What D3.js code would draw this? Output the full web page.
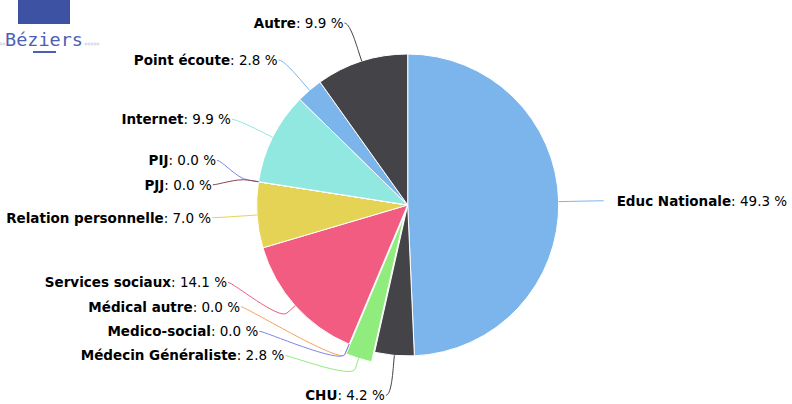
<!DOCTYPE html>
<html>
<head>
<meta charset="utf-8">
<script src="https://cdn.jsdelivr.net/npm/d3@7"></script>
<style>
  body { margin: 0; background: #fff; }
  svg { display: block; }
</style>
</head>
<body>
<div id="pie-chart"></div>
<script>
// data
const categories = ["Educ Nationale", "CHU", "Médecin Généraliste", "Médical autre", "Medico-social",
  "Services sociaux", "Relation personnelle", "PIJ", "PJJ", "Internet", "Point écoute", "Autre"];
const counts = [35, 3, 2, 0, 0, 10, 5, 0, 0, 7, 2, 7];
const colors = ["#7cb5ec", "#434348", "#90ed7d", "#f7a35c", "#8085e9", "#f15c80",
  "#e4d354", "#8085e8", "#8d4653", "#91e8e1", "#7cb5ec", "#434348"];
const slicedCategory = "Médecin Généraliste";

// layout
const WIDTH = 792;
const HEIGHT = 404;
const CX = 407.7;
const CY = 205;
const RADIUS = 151;
const DISTANCE = 40;
const SLICED_OFFSET = 10;
const CONNECTOR_OFFSET = 11;
const SLOT_HEIGHT = 24.4;
const R = RADIUS + DISTANCE;

const svg = d3
  .select("#pie-chart")
  .append("svg")
  .attr("width", WIDTH)
  .attr("height", HEIGHT);

// logo in the corner
const logo = svg.append("g");
logo.append("rect").attr("x", 18).attr("y", -2).attr("width", 52).attr("height", 26).attr("fill", "#3e52a4");
logo.append("text")
  .attr("x", 5).attr("y", 46)
  .attr("font-family", "DejaVu Sans Mono")
  .attr("font-size", "18.5px")
  .attr("fill", "#4c60b3")
  .text("Béziers");
logo.append("rect").attr("x", 33).attr("y", 51).attr("width", 23).attr("height", 2).attr("fill", "#4c60b3");
[1, 4].forEach((x) => logo.append("circle").attr("cx", x).attr("cy", 44).attr("r", 1.1)
  .attr("fill", "none").attr("stroke", "#b8bfd8").attr("stroke-width", 0.6));
[86, 89, 92, 95, 98].forEach((x) => logo.append("circle").attr("cx", x).attr("cy", 44).attr("r", 1.1)
  .attr("fill", "none").attr("stroke", "#b8bfd8").attr("stroke-width", 0.6));

const data = categories.map((name, i) => ({
  name: name,
  count: counts[i],
  color: colors[i],
  sliced: name === slicedCategory,
}));
const total = d3.sum(counts);

const pie = d3.pie().sort(null).value((d) => d.count);
const arc = d3.arc().innerRadius(0).outerRadius(RADIUS);
const arcs = pie(data);

function polar(a, r) {
  return [CX + r * Math.sin(a), CY - r * Math.cos(a)];
}

arcs.forEach((d) => {
  d.mid = (d.startAngle + d.endAngle) / 2;
  d.half = Math.sin(d.mid) < 0 ? 1 : 0; // 1 = left
  const off = d.data.sliced ? SLICED_OFFSET : 0;
  d.shift = [off * Math.sin(d.mid), -off * Math.cos(d.mid)];
  d.naturalY = polar(d.mid, R)[1];
  const e = polar(d.mid, RADIUS);
  const b = polar(d.mid, RADIUS + CONNECTOR_OFFSET);
  d.edge = [e[0] + d.shift[0], e[1] + d.shift[1]];
  d.brk = [b[0] + d.shift[0], b[1] + d.shift[1]];
});

// slices
svg
  .append("g")
  .selectAll("path")
  .data(arcs)
  .enter()
  .append("path")
  .attr("d", arc)
  .attr("transform", (d) => `translate(${CX + d.shift[0]}, ${CY + d.shift[1]})`)
  .attr("fill", (d) => d.data.color)
  .attr("stroke", "#ffffff")
  .attr("stroke-width", 1)
  .attr("stroke-linejoin", "round");

// place labels in slots, like a highcharts pie
function getX(y, left) {
  const s = Math.max(Math.min((y - CY) / R, 1), -1);
  return CX + (left ? -1 : 1) * Math.cos(Math.asin(s)) * R;
}

const slotTop = Math.max(0, CY - R);
const slotBottom = Math.min(CY + R, HEIGHT);

[0, 1].forEach((half) => {
  const points = arcs.filter((d) => d.half === half);
  points.sort((a, b) => (half ? b.mid - a.mid : a.mid - b.mid));
  const n = points.length;

  const slots = [];
  for (let pos = slotTop; pos <= slotBottom; pos += SLOT_HEIGHT) slots.push(pos);
  const ns = slots.length;

  const used = [];
  points.forEach((p, j) => {
    let closest = Infinity;
    let idx = 0;
    slots.forEach((s, k) => {
      if (s === null) return;
      const dist = Math.abs(s - p.naturalY);
      if (dist < closest) {
        closest = dist;
        idx = k;
      }
    });
    if (idx < j && slots[j] !== null) {
      idx = j;
    } else if (ns < n - j + idx && slots[j] !== null) {
      idx = ns - n + j;
      while (slots[idx] === null) idx++;
    } else {
      while (slots[idx] === null) idx++;
    }
    used.push({ i: idx, y: slots[idx] });
    slots[idx] = null;
  });
  used.sort((a, b) => a.y - b.y);

  points.forEach((p, j) => {
    const slot = used[j];
    let y = slot.y;
    if ((p.naturalY > y && slots[slot.i + 1] !== null) ||
        (p.naturalY < y && slots[slot.i - 1] !== null)) {
      y = Math.min(Math.max(0, p.naturalY), HEIGHT);
    }
    p.labelY = y;
    p.labelX = getX(y, half === 1);
  });
});

// connectors
svg
  .append("g")
  .selectAll("path")
  .data(arcs)
  .enter()
  .append("path")
  .attr("d", (d) => {
    const x = d.labelX, y = d.labelY;
    const sx = d.half ? x - 5 : x + 5;
    const c2 = [2 * d.brk[0] - d.edge[0], 2 * d.brk[1] - d.edge[1]];
    return `M${sx},${y}C${x},${y} ${c2[0]},${c2[1]} ${d.brk[0]},${d.brk[1]}L${d.edge[0]},${d.edge[1]}`;
  })
  .attr("fill", "none")
  .attr("stroke", (d) => d.data.color)
  .attr("stroke-width", 1);

// labels
const labels = svg
  .append("g")
  .attr("font-family", "DejaVu Sans, Lucida Grande, sans-serif")
  .attr("font-size", "13.5px")
  .attr("fill", "#000000")
  .selectAll("text")
  .data(arcs)
  .enter()
  .append("text")
  .attr("x", (d) => (d.half ? d.labelX - 6 : d.labelX + 18))
  .attr("y", (d) => d.labelY)
  .attr("dy", "0.36em")
  .attr("text-anchor", (d) => (d.half ? "end" : "start"));

labels.append("tspan").attr("font-weight", "bold").text((d) => d.data.name);
labels.append("tspan").text((d) => `: ${((d.data.count / total) * 100).toFixed(1)} %`);
</script>
</body>
</html>
